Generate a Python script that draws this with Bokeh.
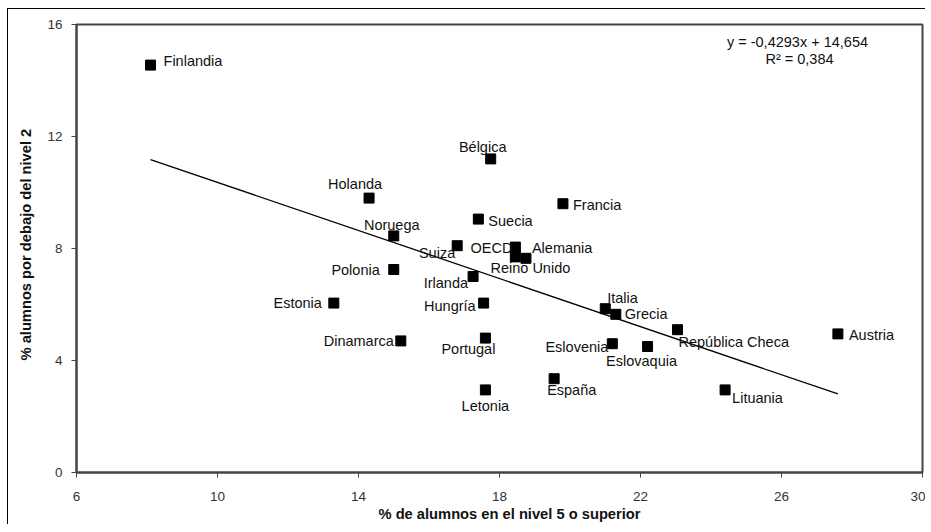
from bokeh.plotting import figure
from bokeh.models import ColumnDataSource, Label, FixedTicker, Range1d, Title
from bokeh.embed import file_html
from bokeh.resources import INLINE
from bokeh.core.properties import value

# ---------------- data ----------------
countries = ["Finlandia", "Holanda", "Noruega", "Suiza", "Polonia", "Estonia",
             "Dinamarca", "Irlanda", "Hungría", "Portugal", "Letonia", "Bélgica",
             "Suecia", "Francia", "OECD", "Reino Unido", "Alemania", "Italia",
             "Grecia", "Eslovenia", "Eslovaquia", "España", "República Checa",
             "Lituania", "Austria"]
pct_level5 = [8.1, 14.3, 15.0, 16.8, 15.0, 13.3,
              15.2, 17.25, 17.55, 17.6, 17.6, 17.75,
              17.4, 19.8, 18.45, 18.45, 18.75, 21.0,
              21.3, 21.2, 22.2, 19.55, 23.05,
              24.4, 27.6]
pct_below2 = [14.55, 9.8, 8.45, 8.1, 7.25, 6.05,
              4.7, 7.0, 6.05, 4.8, 2.95, 11.2,
              9.05, 9.6, 8.05, 7.7, 7.65, 5.85,
              5.65, 4.6, 4.5, 3.35, 5.1,
              2.95, 4.95]
x_ticks = [6, 10, 14, 18, 22, 26, 30]
y_ticks = [0, 4, 8, 12, 16]
trend_slope = -0.4293
trend_intercept = 14.654
equation_text = "y = -0,4293x  + 14,654"
r2_text = "R² = 0,384"
x_title = "% de alumnos en el nivel 5 o superior"
y_title = "% alumnos por debajo del nivel 2"

# label placement (pixel offsets and alignment) -- styling only
label_style = {
    "Finlandia": (13, -4, "left"),
    "Holanda": (-14, -14, "center"),
    "Noruega": (-2, -11, "center"),
    "Suiza": (-2, 7, "right"),
    "Polonia": (-14, 0, "right"),
    "Estonia": (-12, 0, "right"),
    "Dinamarca": (-7, 0, "right"),
    "Irlanda": (-5, 6, "right"),
    "Hungría": (-8, 3, "right"),
    "Portugal": (10, 11, "right"),
    "Letonia": (0, 16, "center"),
    "Bélgica": (-8, -12, "center"),
    "Suecia": (10, 2, "left"),
    "Francia": (10, 1, "left"),
    "OECD": (-3, 1, "right"),
    "Reino Unido": (15, 11, "center"),
    "Alemania": (6, -10, "left"),
    "Italia": (2, -11, "left"),
    "Grecia": (9, 0, "left"),
    "Eslovenia": (-4, 3, "right"),
    "Eslovaquia": (-6, 14, "center"),
    "España": (-7, 11, "left"),
    "República Checa": (1, 12, "left"),
    "Lituania": (7, 8, "left"),
    "Austria": (11, 1, "left"),
}

FONT = "Liberation Sans"
AXIS_COL = "#444444"

src = ColumnDataSource(dict(
    x=pct_level5, y=pct_below2, name=countries,
    dx=[label_style[c][0] for c in countries],
    dy=[label_style[c][1] for c in countries],
    align=[label_style[c][2] for c in countries],
))

p = figure(width=918, height=516,
           x_range=Range1d(x_ticks[0], x_ticks[-1]),
           y_range=Range1d(y_ticks[0], y_ticks[-1]),
           output_backend="svg", toolbar_location=None,
           min_border_left=68, min_border_right=4,
           min_border_top=15, min_border_bottom=53,
           background_fill_color="white", border_fill_color="white")
p.styles = {"margin-top": "8px", "margin-left": "7px",
            "border-top": "1px solid #000000", "border-left": "1px solid #000000"}

p.xgrid.visible = False
p.ygrid.visible = False
p.outline_line_color = AXIS_COL
p.outline_line_width = 2

p.xaxis.ticker = FixedTicker(ticks=x_ticks)
p.yaxis.ticker = FixedTicker(ticks=y_ticks)
for ax in (p.xaxis, p.yaxis):
    ax.axis_line_color = AXIS_COL
    ax.axis_line_width = 2
    ax.major_tick_line_color = AXIS_COL
    ax.major_tick_line_width = 1
    ax.major_tick_out = 5
    ax.major_tick_in = 0
    ax.minor_tick_line_color = None
    ax.major_label_text_font = FONT
    ax.major_label_text_font_size = "13.5px"
    ax.major_label_text_color = "#333333"
p.xaxis.major_label_standoff = 14
p.yaxis.major_label_standoff = 9

# trend line from the regression coefficients
tx = [min(pct_level5), max(pct_level5)]
ty = [trend_slope * v + trend_intercept for v in tx]
p.line(tx, ty, line_color="black", line_width=1.3)

# points
p.scatter("x", "y", source=src, marker="square", size=10,
          fill_color="black", line_color="black")

# labels
p.text("x", "y", text="name", source=src, x_offset="dx", y_offset="dy",
       text_align="align", text_baseline="middle",
       text_font=value(FONT), text_font_size="14.5px", text_color="#111111")

# equation
p.add_layout(Label(x=723, y=431, x_units="screen", y_units="screen",
                   text=equation_text, text_align="center", text_baseline="middle",
                   text_font=FONT, text_font_size="14.5px", text_color="#111111"))
p.add_layout(Label(x=723, y=414, x_units="screen", y_units="screen",
                   text=r2_text, text_align="center", text_baseline="middle",
                   text_font=FONT, text_font_size="14.5px", text_color="#111111"))

# axis titles
p.add_layout(Title(text=x_title, align="left", offset=302, standoff=0,
                   text_font=FONT, text_font_size="14.7px", text_font_style="bold",
                   text_color="#111111"), "below")
p.add_layout(Title(text=y_title, align="left", offset=112, standoff=17,
                   vertical_align="top",
                   text_font=FONT, text_font_size="14.7px", text_font_style="bold",
                   text_color="#111111"), "left")

open("out.html", "w").write(file_html(p, INLINE))
